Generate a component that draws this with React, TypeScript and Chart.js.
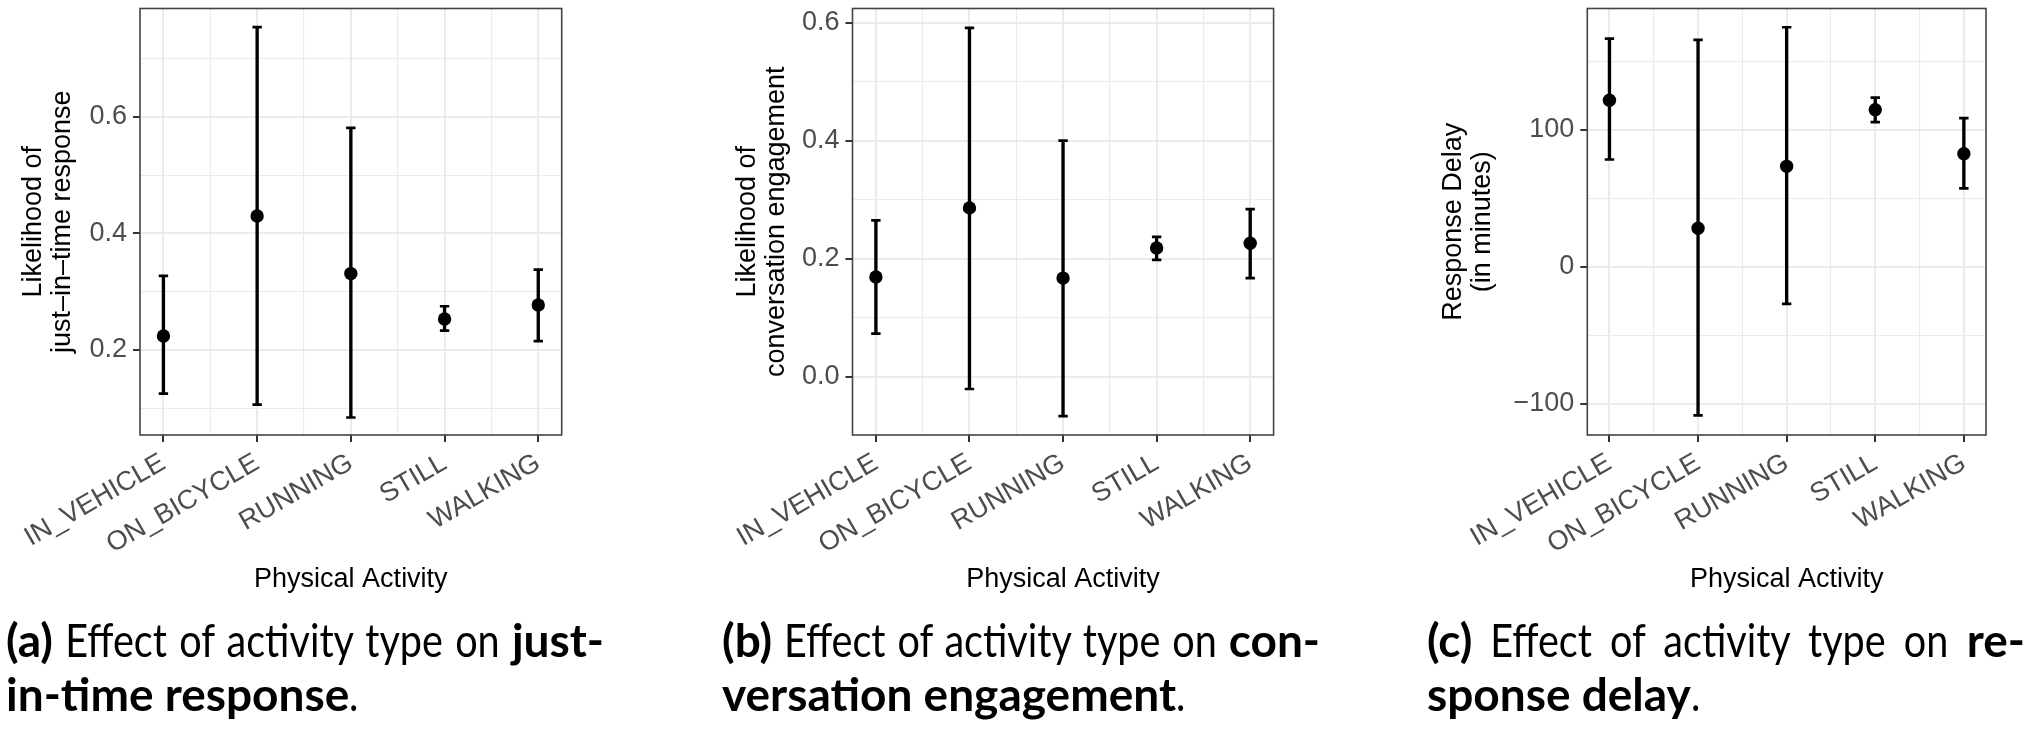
import React, { useEffect, useLayoutEffect, useRef } from "react";
import { Chart, registerables } from "chart.js";

Chart.register(...registerables);

// ---------- data ----------
const categories = ["IN_VEHICLE", "ON_BICYCLE", "RUNNING", "STILL", "WALKING"];

// (a) likelihood of just-in-time response
const jitMean = [0.224, 0.43, 0.331, 0.253, 0.277];
const jitLow = [0.125, 0.106, 0.084, 0.233, 0.215];
const jitHigh = [0.327, 0.754, 0.581, 0.275, 0.338];
const jitMajorTicks = [0.2, 0.4, 0.6];
const jitMinorTicks = [0.1, 0.3, 0.5, 0.7];

// (b) likelihood of conversation engagement
const convMean = [0.169, 0.286, 0.167, 0.218, 0.226];
const convLow = [0.073, -0.021, -0.067, 0.198, 0.167];
const convHigh = [0.265, 0.591, 0.4, 0.237, 0.284];
const convMajorTicks = [0.0, 0.2, 0.4, 0.6];
const convMinorTicks = [0.1, 0.3, 0.5];

// (c) response delay in minutes
const delayMean = [121.4, 28.0, 73.2, 114.5, 82.4];
const delayLow = [78.2, -108.6, -27.2, 105.5, 57.1];
const delayHigh = [166.4, 165.5, 174.7, 123.4, 108.4];
const delayMajorTicks = [-100, 0, 100];
const delayMinorTicks = [-50, 50, 150];

const xTitle = "Physical Activity";

// ---------- styling ----------
const FONT = "'Liberation Sans', Arial, Helvetica, sans-serif";
const TICK_COLOR = "#4d4d4d";
const GRID_COLOR = "#ebebeb";
const CANVAS_H = 620;
const TICK_FONT_SIZE = 27;

type PanelSpec = {
  left: number;
  width: number;
  yAxisWidth: number;
  padRight: number;
  titlePad: number;
  yMin: number;
  yMax: number;
  mean: number[];
  low: number[];
  high: number[];
  major: number[];
  minor: number[];
  yTitle: string[];
  fmt: (v: number) => string;
};

const PLOT_TOP = 8.5;
const PLOT_BOTTOM = 435;

const panels: PanelSpec[] = [
  {
    left: 0,
    width: 680,
    yAxisWidth: 140,
    padRight: 680 - 561.7,
    titlePad: 19.5,
    yMin: 0.054,
    yMax: 0.786,
    mean: jitMean,
    low: jitLow,
    high: jitHigh,
    major: jitMajorTicks,
    minor: jitMinorTicks,
    yTitle: ["Likelihood of", "just\u2013in\u2013time response"],
    fmt: (v) => v.toFixed(1),
  },
  {
    left: 690,
    width: 680,
    yAxisWidth: 852.5 - 690,
    padRight: 1370 - 1273.6,
    titlePad: 43.1,
    yMin: -0.099,
    yMax: 0.624,
    mean: convMean,
    low: convLow,
    high: convHigh,
    major: convMajorTicks,
    minor: convMinorTicks,
    yTitle: ["Likelihood of", "conversation engagement"],
    fmt: (v) => v.toFixed(1),
  },
  {
    left: 1380,
    width: 660,
    yAxisWidth: 1587.3 - 1380,
    padRight: 2040 - 1986,
    titlePad: 59.1,
    yMin: -122.9,
    yMax: 188.4,
    mean: delayMean,
    low: delayLow,
    high: delayHigh,
    major: delayMajorTicks,
    minor: delayMinorTicks,
    yTitle: ["Response Delay", "(in minutes)"],
    fmt: (v) => String(Math.round(v)).replace("-", "\u2212"),
  },
];

const boxPlugin = {
  id: "panelBox",
  afterDraw(chart: any) {
    const { ctx, chartArea } = chart;
    ctx.save();
    ctx.strokeStyle = "#444444";
    ctx.lineWidth = 1.6;
    ctx.strokeRect(chartArea.left, chartArea.top, chartArea.right - chartArea.left, chartArea.bottom - chartArea.top);
    ctx.restore();
  },
};

function buildConfig(p: PanelSpec): any {
  const idx = categories.map((_, i) => i);
  const yTicks = [...p.major, ...p.minor].sort((a, b) => a - b);
  const isMajorY = (v: number) => p.major.some((m) => Math.abs(m - v) < 1e-9);
  const xTicks: number[] = [];
  categories.forEach((_, i) => {
    xTicks.push(i);
    if (i < categories.length - 1) xTicks.push(i + 0.5);
  });
  const isMajorX = (v: number) => Math.abs(v - Math.round(v)) < 1e-9;

  return {
    type: "scatter",
    data: {
      datasets: [
        {
          type: "scatter",
          data: idx.map((i) => ({ x: i, y: p.mean[i] })),
          pointRadius: 6.7,
          pointBackgroundColor: "#000000",
          pointBorderColor: "#000000",
          pointBorderWidth: 0,
          order: 0,
        },
        {
          type: "scatter",
          data: idx.flatMap((i) => [
            { x: i, y: p.low[i] },
            { x: i, y: p.high[i] },
          ]),
          pointStyle: "line",
          pointRadius: 4.7,
          pointBorderColor: "#000000",
          pointBorderWidth: 2.7,
          order: 1,
        },
        {
          type: "bar",
          data: idx.map((i) => ({ x: i, y: [p.low[i], p.high[i]] })),
          backgroundColor: "#000000",
          borderWidth: 0,
          barThickness: 2.7,
          grouped: false,
          order: 2,
        },
      ],
    },
    options: {
      responsive: false,
      animation: false,
      events: [],
      layout: { padding: { left: 0, right: p.padRight, top: PLOT_TOP, bottom: 0 } },
      plugins: { legend: { display: false }, tooltip: { enabled: false } },
      scales: {
        x: {
          type: "linear",
          min: -0.25,
          max: categories.length - 0.75,
          offset: false,
          afterBuildTicks: (s: any) => {
            s.ticks = xTicks.map((v) => ({ value: v }));
          },
          afterFit: (s: any) => {
            s.height = CANVAS_H - PLOT_BOTTOM;
            s.paddingLeft = 0;
            s.paddingRight = 0;
          },
          ticks: {
            autoSkip: false,
            minRotation: 30,
            maxRotation: 30,
            padding: 5,
            color: TICK_COLOR,
            font: { family: FONT, size: TICK_FONT_SIZE },
            callback: (v: number) => (isMajorX(v) ? categories[Math.round(v)] : ""),
          },
          grid: {
            offset: false,
            color: GRID_COLOR,
            lineWidth: (ctx: any) => (ctx.tick && isMajorX(ctx.tick.value) ? 2 : 1.1),
            tickColor: (ctx: any) => (ctx.tick && isMajorX(ctx.tick.value) ? "#333333" : "rgba(0,0,0,0)"),
            tickWidth: 2,
            tickLength: 7,
          },
          border: { display: false },
          title: {
            display: true,
            text: xTitle,
            color: "#000000",
            font: { family: FONT, size: 27, lineHeight: 29 / 27 },
            padding: { top: 0, bottom: 25.5 },
          },
        },
        y: {
          type: "linear",
          min: p.yMin,
          max: p.yMax,
          afterBuildTicks: (s: any) => {
            s.ticks = yTicks.map((v) => ({ value: v }));
          },
          afterFit: (s: any) => {
            s.width = p.yAxisWidth;
            s.paddingTop = 0;
            s.paddingBottom = 0;
          },
          ticks: {
            padding: 6,
            color: TICK_COLOR,
            font: { family: FONT, size: TICK_FONT_SIZE },
            callback: (v: number) => (isMajorY(v) ? p.fmt(v) : ""),
          },
          grid: {
            color: GRID_COLOR,
            lineWidth: (ctx: any) => (ctx.tick && isMajorY(ctx.tick.value) ? 2 : 1.1),
            tickColor: (ctx: any) => (ctx.tick && isMajorY(ctx.tick.value) ? "#333333" : "rgba(0,0,0,0)"),
            tickWidth: 2,
            tickLength: 7,
          },
          border: { display: false },
          title: {
            display: true,
            text: p.yTitle,
            color: "#000000",
            font: { family: FONT, size: 27, lineHeight: 29 / 27 },
            padding: { top: p.titlePad, bottom: 0 },
          },
        },
      },
    },
    plugins: [boxPlugin],
  };
}

function Panel({ spec }: { spec: PanelSpec }) {
  const ref = useRef<HTMLCanvasElement>(null);
  useEffect(() => {
    const chart = new Chart(ref.current as HTMLCanvasElement, buildConfig(spec));
    return () => chart.destroy();
  }, [spec]);
  return (
    <div style={{ position: "absolute", left: spec.left, top: 0, width: spec.width, height: CANVAS_H }}>
      <canvas ref={ref} width={spec.width} height={CANVAS_H} style={{ width: spec.width, height: CANVAS_H, display: "block" }} />
    </div>
  );
}

// ---------- captions ----------
type Seg = { text: string; bold: boolean };
type CaptionLine = Seg[];
const captions: { left: number; lines: CaptionLine[] }[] = [
  {
    left: 6,
    lines: [
      [
        { text: "(a)", bold: true },
        { text: " Effect of activity type on ", bold: false },
        { text: "just-", bold: true },
      ],
      [
        { text: "in-time response", bold: true },
        { text: ".", bold: false },
      ],
    ],
  },
  {
    left: 722,
    lines: [
      [
        { text: "(b)", bold: true },
        { text: " Effect of activity type on ", bold: false },
        { text: "con-", bold: true },
      ],
      [
        { text: "versation engagement", bold: true },
        { text: ".", bold: false },
      ],
    ],
  },
  {
    left: 1427,
    lines: [
      [
        { text: "(c)", bold: true },
        { text: " Effect of activity type on ", bold: false },
        { text: "re-", bold: true },
      ],
      [
        { text: "sponse delay", bold: true },
        { text: ".", bold: false },
      ],
    ],
  },
];

const CAPTION_BOX = 598;
const REG_SCALE = 0.86;
const BOLD_SCALE = 1.0;

function CaptionLineView({ line, justify }: { line: CaptionLine; justify: boolean }) {
  const ref = useRef<HTMLDivElement>(null);
  useLayoutEffect(() => {
    const el = ref.current;
    if (!el) return;
    const spans = Array.from(el.children) as HTMLElement[];
    const apply = () => {
      let total = 0;
      spans.forEach((sp, k) => {
        const s = line[k].bold ? BOLD_SCALE : REG_SCALE;
        sp.style.marginRight = "0px";
        const scaled = sp.getBoundingClientRect().width;
        const w = scaled / s;
        sp.style.marginRight = `${-(w - scaled)}px`;
        total += scaled;
      });
      return total;
    };
    spans.forEach((sp) => (sp.style.wordSpacing = "0px"));
    const total = apply();
    if (justify) {
      let nSpaces = 0;
      line.forEach((seg) => {
        if (!seg.bold) nSpaces += (seg.text.match(/ /g) || []).length;
      });
      if (nSpaces > 0) {
        const ws = (CAPTION_BOX - total) / (nSpaces * REG_SCALE);
        spans.forEach((sp, k) => {
          if (!line[k].bold) sp.style.wordSpacing = `${ws}px`;
        });
        apply();
      }
    }
  }, [line, justify]);
  return (
    <div ref={ref} style={{ whiteSpace: "nowrap", height: 54 }}>
      {line.map((seg, k) => (
        <span
          key={k}
          style={{
            display: "inline-block",
            whiteSpace: "pre",
            transform: `scaleX(${seg.bold ? BOLD_SCALE : REG_SCALE})`,
            transformOrigin: "0 0",
            fontWeight: seg.bold ? 700 : 400,
          }}
        >
          {seg.text}
        </span>
      ))}
    </div>
  );
}

export default function App() {
  return (
    <div style={{ position: "absolute", left: 0, top: 0, width: 2040, height: 744, background: "#ffffff", overflow: "hidden" }}>
      {panels.map((p, i) => (
        <Panel key={i} spec={p} />
      ))}
      {captions.map((c, i) => (
        <div
          key={"c" + i}
          style={{
            position: "absolute",
            left: c.left,
            top: 613,
            fontFamily: "Lato, 'Noto Sans', sans-serif",
            fontSize: 46,
            lineHeight: "54px",
            color: "#000",
          }}
        >
          {c.lines.map((line, j) => (
            <CaptionLineView key={j} line={line} justify={j === 0} />
          ))}
        </div>
      ))}
    </div>
  );
}
